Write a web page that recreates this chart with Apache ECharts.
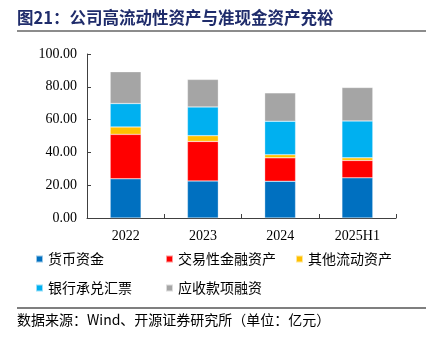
<!DOCTYPE html>
<html>
<head>
<meta charset="utf-8">
<script src="https://cdn.jsdelivr.net/npm/echarts@6/dist/echarts.min.js"></script>
<style>
  html, body { margin: 0; padding: 0; background: #fff; }
  #chart { width: 426px; height: 338px; }
</style>
</head>
<body>
<div id="chart"></div>
<script>
// 期间（年度 / 半年度）
const periods = ['2022', '2023', '2024', '2025H1'];

// 各项资产（亿元）
const cashFunds = [23.9, 22.6, 22.4, 24.5];          // 货币资金
const tradingAssets = [27.1, 24.1, 14.3, 10.6];      // 交易性金融资产
const otherCurrent = [4.5, 3.5, 1.9, 1.6];           // 其他流动资产
const bankAcceptance = [14.3, 17.5, 20.4, 22.5];     // 银行承兑汇票
const receivablesFin = [19.4, 16.8, 17.3, 20.4];     // 应收款项融资

const yTicks = [0, 20, 40, 60, 80, 100];

const seriesNames = ['货币资金', '交易性金融资产', '其他流动资产', '银行承兑汇票', '应收款项融资'];
const seriesData = [cashFunds, tradingAssets, otherCurrent, bankAcceptance, receivablesFin];
const seriesColors = ['#0070C0', '#FF0000', '#FFC000', '#00B0F0', '#A5A5A5'];

const serifFont = '"Liberation Serif", "Noto Sans CJK SC", serif';
const cjkFont = '"Noto Sans CJK SC", "Liberation Serif", serif';

const chart = echarts.init(document.getElementById('chart'), null, { renderer: 'canvas' });

const legendText = { fontFamily: cjkFont, fontSize: 14, color: '#000' };
function legendCol(names, left) {
  return {
    data: names,
    orient: 'vertical',
    left: left,
    top: 252,
    itemWidth: 7,
    itemHeight: 7,
    itemGap: 15,
    icon: 'rect',
    padding: 0,
    textStyle: legendText,
    selectedMode: false
  };
}

chart.setOption({
  animation: false,
  backgroundColor: '#fff',
  grid: { left: 87, right: 30, top: 54, bottom: 120 },
  legend: [
    legendCol(['货币资金', '银行承兑汇票'], 35),
    legendCol(['交易性金融资产', '应收款项融资'], 165),
    legendCol(['其他流动资产'], 295)
  ],
  xAxis: {
    type: 'category',
    data: periods,
    axisLine: { lineStyle: { color: '#404040', width: 1 } },
    axisTick: { show: true, inside: true, length: 4, alignWithLabel: false, lineStyle: { color: '#404040' } },
    axisLabel: { fontFamily: serifFont, fontSize: 14, color: '#000', margin: 11 }
  },
  yAxis: {
    type: 'value',
    min: 0,
    max: 100,
    interval: 20,
    splitLine: { show: false },
    axisLine: { show: true, lineStyle: { color: '#404040', width: 1 } },
    axisTick: { show: true, inside: true, length: 4, lineStyle: { color: '#404040' } },
    axisLabel: {
      fontFamily: serifFont, fontSize: 14, color: '#000', margin: 10,
      formatter: v => (yTicks.includes(v) ? v.toFixed(2) : '')
    }
  },
  series: seriesNames.map((name, i) => ({
    name: name,
    type: 'bar',
    stack: 'total',
    barWidth: '40%',
    data: seriesData[i],
    itemStyle: { color: seriesColors[i], borderColor: 'rgba(255,255,255,0.6)', borderWidth: 0.5 }
  })),
  graphic: [
    {
      type: 'text', left: 17, top: 9,
      style: {
        text: '图21：公司高流动性资产与准现金资产充裕',
        fontFamily: cjkFont, fontSize: 16.5, fontWeight: 'bold', fill: '#1F2C6B'
      }
    },
    {
      type: 'rect', shape: { x: 17, y: 30, width: 409, height: 2 },
      style: { fill: '#8C8C8C' }
    },
    {
      type: 'rect', shape: { x: 17, y: 307.5, width: 409, height: 1 },
      style: { fill: '#000' }
    },
    {
      type: 'text', left: 17, top: 313,
      style: {
        text: '数据来源：Wind、开源证券研究所（单位：亿元）',
        fontFamily: cjkFont, fontSize: 14, fill: '#000'
      }
    }
  ]
});
</script>
</body>
</html>
